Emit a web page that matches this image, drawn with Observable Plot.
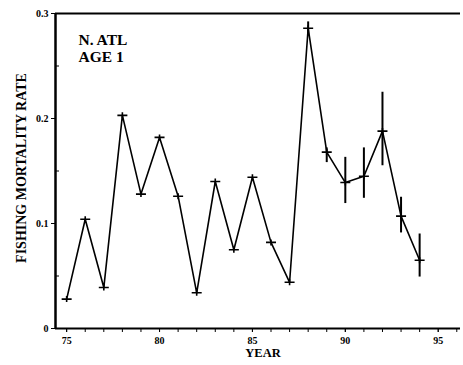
<!DOCTYPE html>
<html>
<head>
<meta charset="utf-8">
<script src="https://cdn.jsdelivr.net/npm/d3@7"></script>
<script src="https://cdn.jsdelivr.net/npm/@observablehq/plot@0.6"></script>
<style>
  html, body { margin: 0; padding: 0; background: #fff; }
  svg { display: block; }
</style>
</head>
<body>
<div id="chart"></div>
<script>
// Data
const years = [75,76,77,78,79,80,81,82,83,84,85,86,87,88,89,90,91,92,93,94];
const rates = [0.028,0.104,0.039,0.203,0.128,0.182,0.126,0.034,0.140,0.075,0.144,0.082,0.044,0.286,0.168,0.139,0.145,0.188,0.107,0.065];
const errYears = [88,89,90,91,92,93,94];
const errLow  = [0.280,0.158,0.119,0.124,0.155,0.091,0.049];
const errHigh = [0.292,0.172,0.163,0.172,0.225,0.125,0.090];
const yTicks = [0, 0.1, 0.2, 0.3];
const yTickLabels = ["0", "0.1", "0.2", "0.3"];
const yMinor = [0.05, 0.15, 0.25];
const xTicks = [75, 80, 85, 90, 95];
const xTickLabels = ["75", "80", "85", "90", "95"];
const xMinor = d3.range(75, 97);

const points = years.map((x, i) => ({x, y: rates[i]}));
const errs = errYears.map((x, i) => ({x, lo: errLow[i], hi: errHigh[i]}));

const cross = {
  draw(ctx, size) {
    ctx.moveTo(-5, 0); ctx.lineTo(5, 0);
    ctx.moveTo(0, -3); ctx.lineTo(0, 3);
  }
};

const font = "Liberation Serif";

const chart = Plot.plot({
  width: 463,
  height: 365,
  marginLeft: 55,
  marginRight: 3,
  marginTop: 13,
  marginBottom: 37,
  style: {fontFamily: font, fontWeight: "bold", fontSize: "10px", background: "#fff", color: "#000"},
  x: {domain: [74.4, 96.2]},
  y: {domain: [0, 0.3]},
  marks: [
    // axis lines
    Plot.ruleX([74.4], {stroke: "#000", strokeWidth: 2.5}),
    Plot.ruleY([0], {stroke: "#000", strokeWidth: 2}),
    Plot.ruleY([0.3], {stroke: "#000", strokeWidth: 2}),
    // y axis
    Plot.axisY({ticks: yTicks, tickFormat: d => yTickLabels[yTicks.indexOf(d)], tickSize: 4, tickPadding: 3, label: null, fontSize: 10, fontWeight: "bold"}),
    Plot.axisY({ticks: yMinor, tickSize: -4, text: null, label: null}),
    // x axis
    Plot.axisX({ticks: xMinor, tickSize: 4, text: null, label: null}),
    Plot.axisX({ticks: xTicks, tickSize: 4, tickPadding: 4, tickFormat: d => xTickLabels[xTicks.indexOf(d)], label: null, fontSize: 10, fontWeight: "bold"}),
    // series
    Plot.line(points, {x: "x", y: "y", stroke: "#000", strokeWidth: 1.6}),
    Plot.ruleX(errs, {x: "x", y1: "lo", y2: "hi", stroke: "#000", strokeWidth: 2}),
    Plot.dot(points, {x: "x", y: "y", symbol: cross, stroke: "#000", strokeWidth: 1.6, r: 5}),
    // labels
    Plot.text(["FISHING MORTALITY RATE"], {frameAnchor: "left", rotate: -90, dx: -34, dy: -3, textAnchor: "middle", fontSize: 14, fontWeight: "bold", fill: "#000"}),
    Plot.text(["YEAR"], {frameAnchor: "bottom", dx: 5, dy: 28, fontSize: 12.5, fontWeight: "bold", fill: "#000"}),
    Plot.text(["N. ATL\nAGE 1"], {frameAnchor: "top-left", dx: 23, dy: 19, textAnchor: "start", lineAnchor: "top", lineHeight: 1.1, fontSize: 15.5, fontWeight: "bold", fill: "#000"})
  ]
});
document.getElementById("chart").appendChild(chart);
</script>
</body>
</html>
